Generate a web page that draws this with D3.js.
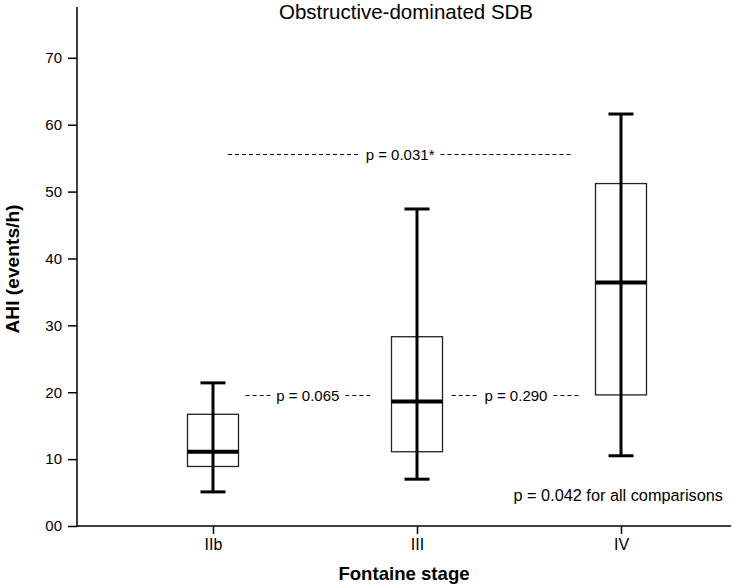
<!DOCTYPE html>
<html>
<head>
<meta charset="utf-8">
<script src="https://cdn.jsdelivr.net/npm/d3@7"></script>
<style>
  body { margin: 0; background: #fff; }
  text { font-family: "Liberation Sans", Arial, sans-serif; fill: #000; }
</style>
</head>
<body>
<div id="chart"></div>
<script>
// box plot values (AHI, events/h) per Fontaine stage
const stages = ['IIb', 'III', 'IV'];
const whiskerHigh = [21.4, 47.4, 61.6];
const q3 = [16.7, 28.3, 51.2];
const median = [11.1, 18.6, 36.4];
const q1 = [8.9, 11.1, 19.6];
const whiskerLow = [5.1, 7.0, 10.5];
const yTicks = [0, 10, 20, 30, 40, 50, 60, 70];

// comparisons: from/to in stage-index units, y in data units
const compLabels = ['p = 0.065', 'p = 0.290', 'p = 0.031*'];
const compFrom = [0.16, 1.17, 0.074];
const compTo = [0.77, 1.80, 1.76];
const compY = [19.6, 19.6, 55.6];
const overallNote = 'p = 0.042 for all comparisons';

const width = 733, height = 584;
const svg = d3.select('#chart').append('svg')
  .attr('width', width)
  .attr('height', height);

const y = d3.scaleLinear().domain([0, 77.6]).range([526, 7]);
const x = d3.scalePoint().domain(stages).range([213, 621]);
const xi = d3.scaleLinear().domain([0, stages.length - 1]).range([213, 621]);

// y axis
const yAxis = svg.append('g')
  .attr('transform', 'translate(77,0)')
  .call(d3.axisLeft(y).tickValues(yTicks).tickSize(9).tickPadding(6)
    .tickFormat(d => d === 0 ? '00' : d));
yAxis.select('.domain').remove();
yAxis.selectAll('.tick line').attr('stroke', '#000').attr('stroke-width', 1.5);
yAxis.selectAll('.tick text').style('font-size', '15px').attr('fill', '#000');
svg.append('line')
  .attr('x1', 77).attr('x2', 77).attr('y1', y.range()[1]).attr('y2', 526.7)
  .attr('stroke', '#000').attr('stroke-width', 1.5);

// x axis
const xAxis = svg.append('g')
  .attr('transform', 'translate(0,526)')
  .call(d3.axisBottom(x).tickSize(8).tickPadding(5));
xAxis.select('.domain').remove();
xAxis.selectAll('.tick line').attr('stroke', '#000').attr('stroke-width', 1.5);
xAxis.selectAll('.tick text').style('font-size', '16px').attr('fill', '#000');
svg.append('line')
  .attr('x1', 76.3).attr('x2', 731).attr('y1', 526).attr('y2', 526)
  .attr('stroke', '#000').attr('stroke-width', 1.5);

// boxes
const boxW = 51, capW = 25;
const g = svg.append('g');
stages.forEach((s, i) => {
  const cx = x(s);
  g.append('rect')
    .attr('x', cx - boxW / 2).attr('width', boxW)
    .attr('y', y(q3[i])).attr('height', y(q1[i]) - y(q3[i]))
    .attr('fill', 'none').attr('stroke', '#222').attr('stroke-width', 1.3);
  g.append('line')
    .attr('x1', cx).attr('x2', cx)
    .attr('y1', y(whiskerHigh[i])).attr('y2', y(whiskerLow[i]))
    .attr('stroke', '#000').attr('stroke-width', 3);
  [whiskerHigh[i], whiskerLow[i]].forEach(v => {
    g.append('line')
      .attr('x1', cx - capW / 2).attr('x2', cx + capW / 2)
      .attr('y1', y(v)).attr('y2', y(v))
      .attr('stroke', '#000').attr('stroke-width', 3);
  });
  g.append('line')
    .attr('x1', cx - boxW / 2).attr('x2', cx + boxW / 2)
    .attr('y1', y(median[i])).attr('y2', y(median[i]))
    .attr('stroke', '#000').attr('stroke-width', 4);
});

// comparison annotations
compLabels.forEach((label, i) => {
  const x1 = xi(compFrom[i]), x2 = xi(compTo[i]), yy = Math.round(y(compY[i])) + 0.5;
  const mid = (x1 + x2) / 2;
  const t = svg.append('text')
    .attr('x', mid).attr('y', yy).attr('dy', '0.35em')
    .attr('text-anchor', 'middle')
    .style('font-size', '15px')
    .text(label);
  const half = t.node().getComputedTextLength() / 2 + 6;
  [[x1, mid - half], [mid + half, x2]].forEach(([a, b]) => {
    svg.append('line')
      .attr('x1', a).attr('x2', b).attr('y1', yy).attr('y2', yy)
      .attr('stroke', '#000').attr('stroke-width', 1)
      .attr('stroke-dasharray', '4,3');
  });
});

svg.append('text')
  .attr('x', 723).attr('y', 495).attr('dy', '0.35em')
  .attr('text-anchor', 'end')
  .style('font-size', '16.3px')
  .text(overallNote);

// titles
svg.append('text')
  .attr('x', 406).attr('y', 12).attr('dy', '0.35em')
  .attr('text-anchor', 'middle')
  .style('font-size', '20.5px')
  .text('Obstructive-dominated SDB');

svg.append('text')
  .attr('x', 404).attr('y', 573).attr('dy', '0.35em')
  .attr('text-anchor', 'middle')
  .style('font-size', '18.6px').style('font-weight', 'bold')
  .text('Fontaine stage');

svg.append('text')
  .attr('transform', 'translate(12,269) rotate(-90)')
  .attr('dy', '0.35em')
  .attr('text-anchor', 'middle')
  .style('font-size', '19.2px').style('font-weight', 'bold')
  .text('AHI (events/h)');
</script>
</body>
</html>
